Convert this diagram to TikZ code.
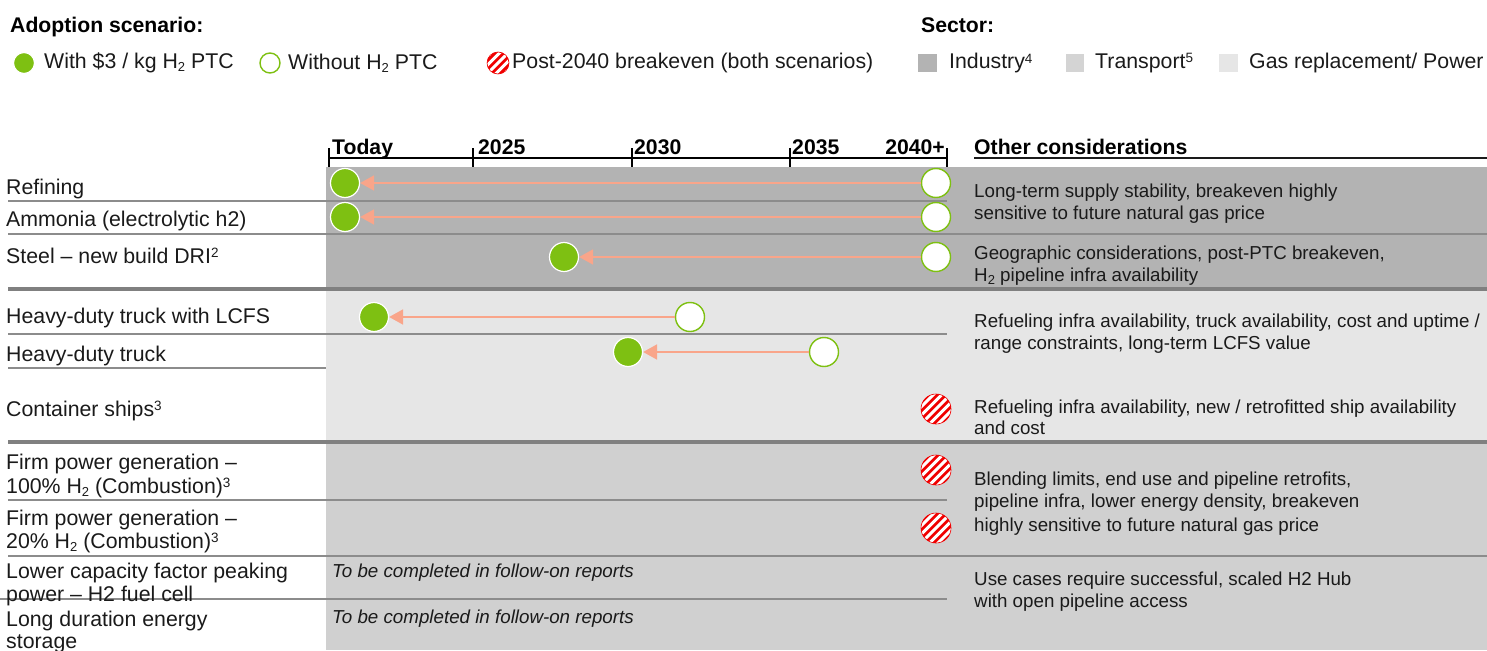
\documentclass[tikz,border=0pt]{standalone}
\usepackage{fontspec}
\setmainfont{Liberation Sans}
\usetikzlibrary{arrows.meta}
\definecolor{ptcgreen}{RGB}{126,192,18}
\definecolor{arrowc}{RGB}{249,165,138}
\definecolor{indgray}{RGB}{179,179,179}
\definecolor{trgray}{RGB}{230,230,230}
\definecolor{pwgray}{RGB}{208,208,208}
\definecolor{legtr}{RGB}{212,212,212}
\definecolor{leggas}{RGB}{230,230,230}
\definecolor{sepgray}{RGB}{140,140,140}
\definecolor{thickgray}{RGB}{128,128,128}
\definecolor{txt}{RGB}{26,26,26}
\definecolor{hatchred}{RGB}{240,0,0}
\newcommand{\fnsup}[1]{\raisebox{5.5pt}{\fontsize{13.5}{13.5}\selectfont #1}}
\newcommand{\hsub}{H\raisebox{-3pt}{\fontsize{13}{13}\selectfont 2}}
\tikzset{
  lbl/.style={anchor=base west, inner sep=0pt, text=txt, font=\fontsize{21.3}{25}\selectfont},
  rtxt/.style={anchor=base west, inner sep=0pt, text=txt, font=\fontsize{18.75}{23}\selectfont},
  hdr/.style={anchor=base west, inner sep=0pt, text=black, font=\fontsize{21.2}{25}\selectfont\bfseries},
  ital/.style={anchor=base west, inner sep=0pt, text=txt, font=\fontsize{18.75}{22}\selectfont\itshape},
  fullc/.style={circle, minimum size=29pt, inner sep=0pt, fill=ptcgreen, draw=white, line width=1.2pt},
  openc/.style={circle, minimum size=29pt, inner sep=0pt, fill=white, draw=ptcgreen, line width=1.4pt},
  hatchc/.style={circle, minimum size=30pt, inner sep=0pt, fill=hatchred, draw=hatchred, line width=0.6pt,
    path picture={\foreach \k in {-5,...,5}{\draw[white, line width=3pt]
      ([xshift={\k*8.5pt-20pt}, yshift=-20pt]path picture bounding box.center) -- ++(40pt,40pt);}}},
  conn/.style={draw=arrowc, line width=1.8pt, -{Triangle[length=14pt,width=15pt]}},
  thinsep/.style={draw=sepgray, line width=1.4pt},
  thicksep/.style={draw=thickgray, line width=3.6pt},
  axisl/.style={draw=black, line width=1.8pt},
}
\begin{document}
\begin{tikzpicture}[x=1pt,y=-1pt]
\useasboundingbox (0,0) rectangle (1487,650);
% sector blocks
\fill[indgray] (326,167) rectangle (1487,289);
\fill[trgray] (326,289) rectangle (1487,442);
\fill[pwgray] (326,442) rectangle (1487,650);
% separators
\draw[thinsep] (8,201) -- (947,201);
\draw[thinsep] (8,234) -- (1487,234);
\draw[thicksep] (8,289) -- (1487,289);
\draw[thinsep] (8,334) -- (947,334);
\draw[thinsep] (8,368) -- (326,368);
\draw[thicksep] (8,442) -- (1487,442);
\draw[thinsep] (8,500) -- (947,500);
\draw[thinsep] (8,556) -- (1487,556);
\draw[thinsep] (0,599) -- (947,599);
% legend
\node[hdr] (adhdr) at (10,33) {Adoption scenario:};
\node[fullc, minimum size=21pt] (lgfull) at (24,63) {};
\node[lbl, anchor=west] (lgfullt) at (44,63) {With \$3 / kg \hsub{} PTC};
\node[openc, minimum size=20pt] (lgopen) at (270,63) {};
\node[lbl, anchor=west] (lgopent) at (288,63) {Without \hsub{} PTC};
\node[hatchc, minimum size=22pt] (lghatch) at (498,63) {};
\node[lbl, anchor=west] (lghatcht) at (512,63) {Post-2040 breakeven (both scenarios)};
\node[hdr] (sechdr) at (921,33) {Sector:};
\fill[indgray] (918,54) rectangle (937,72);
\node[lbl, anchor=west] (lgind) at (949,63) {Industry\fnsup{4}};
\fill[legtr] (1066,54) rectangle (1084,72);
\node[lbl, anchor=west] (lgtr) at (1095,63) {Transport\fnsup{5}};
\fill[leggas] (1219,54) rectangle (1238,72);
\node[lbl, anchor=west] (lggas) at (1249,63) {Gas replacement/ Power};
% timeline
\draw[axisl] (329,158) -- (947,158);
\foreach \tx in {329,473,632,790,947} \draw[line width=1.4pt] (\tx,148) -- (\tx,167);
\node[hdr] (ytoday) at (332,154) {Today};
\node[hdr] (y2025) at (478,154) {2025};
\node[hdr] (y2030) at (634,154) {2030};
\node[hdr] (y2035) at (792,154) {2035};
\node[hdr, anchor=base east] (y2040) at (945,154) {2040+};
\node[hdr] (othhdr) at (974,154) {Other considerations};
\draw[line width=1.4pt, draw=txt] (974,158) -- (1487,158);
% row labels
\node[lbl] (l1) at (6,194) {Refining};
\node[lbl] (l2) at (6,226) {Ammonia (electrolytic h2)};
\node[lbl] (l3) at (6,263) {Steel -- new build DRI\fnsup{2}};
\node[lbl] (l4) at (6,323) {Heavy-duty truck with LCFS};
\node[lbl] (l5) at (6,361) {Heavy-duty truck};
\node[lbl] (l6) at (6,416) {Container ships\fnsup{3}};
\node[lbl] (l7a) at (6,469) {Firm power generation --};
\node[lbl] (l7b) at (6,493) {100\% \hsub{} (Combustion)\fnsup{3}};
\node[lbl] (l8a) at (6,525) {Firm power generation --};
\node[lbl] (l8b) at (6,548) {20\% \hsub{} (Combustion)\fnsup{3}};
\node[lbl] (l9a) at (6,578) {Lower capacity factor peaking};
\node[lbl] (l9b) at (6,601) {power -- H2 fuel cell};
\node[lbl] (l10a) at (6,626) {Long duration energy};
\node[lbl] (l10b) at (6,648) {storage};
% italic placeholders
\node[ital] (tbc1) at (332,577) {To be completed in follow-on reports};
\node[ital] (tbc2) at (332,623) {To be completed in follow-on reports};
% circles
\node[openc] (o1) at (936,183) {};
\node[fullc] (f1) at (345,183) {};
\node[openc] (o2) at (936,217) {};
\node[fullc] (f2) at (345,217) {};
\node[openc] (o3) at (936,257) {};
\node[fullc] (f3) at (564,257) {};
\node[openc] (o4) at (690,317) {};
\node[fullc] (f4) at (374,317) {};
\node[openc] (o5) at (824,352) {};
\node[fullc] (f5) at (628,352) {};
\node[hatchc] (h6) at (936,409) {};
\node[hatchc] (h7) at (936,470) {};
\node[hatchc] (h8) at (936,528) {};
% connectors
\draw[conn] (o1) -- (f1);
\draw[conn] (o2) -- (f2);
\draw[conn] (o3) -- (f3);
\draw[conn] (o4) -- (f4);
\draw[conn] (o5) -- (f5);
% other considerations text
\node[rtxt] (r1a) at (974,197) {Long-term supply stability, breakeven highly};
\node[rtxt] (r1b) at (974,219) {sensitive to future natural gas price};
\node[rtxt] (r3a) at (974,259) {Geographic considerations, post-PTC breakeven,};
\node[rtxt] (r3b) at (974,281) {\hsub{} pipeline infra availability};
\node[rtxt] (r4a) at (974,327) {Refueling infra availability, truck availability, cost and uptime /};
\node[rtxt] (r4b) at (974,349) {range constraints, long-term LCFS value};
\node[rtxt] (r6a) at (974,413) {Refueling infra availability, new / retrofitted ship availability};
\node[rtxt] (r6b) at (974,434) {and cost};
\node[rtxt] (r7a) at (974,485) {Blending limits, end use and pipeline retrofits,};
\node[rtxt] (r7b) at (974,507) {pipeline infra, lower energy density, breakeven};
\node[rtxt] (r7c) at (974,531) {highly sensitive to future natural gas price};
\node[rtxt] (r9a) at (974,585) {Use cases require successful, scaled H2 Hub};
\node[rtxt] (r9b) at (974,607) {with open pipeline access};
\end{tikzpicture}
\end{document}
